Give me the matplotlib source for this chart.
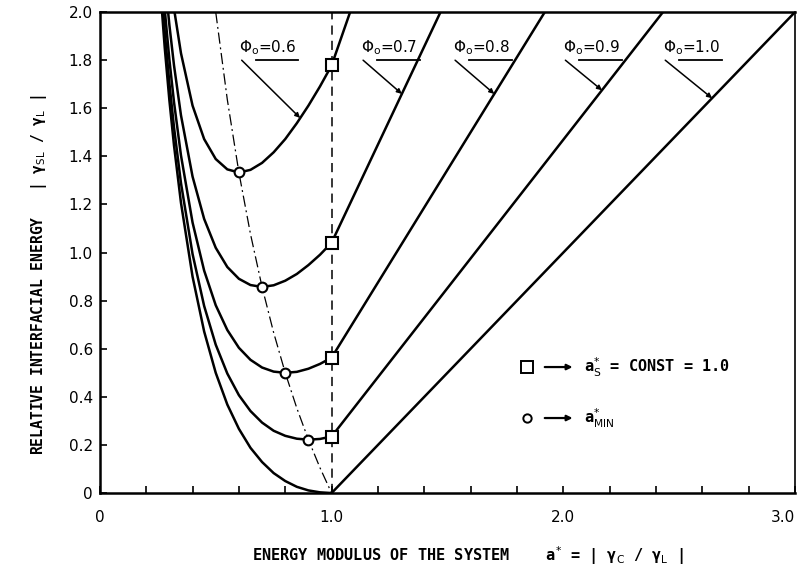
import matplotlib
matplotlib.use("Agg")
import matplotlib.pyplot as plt
from matplotlib.ticker import FuncFormatter

plt.rcParams["font.family"] = ["DejaVu Sans"]
plt.rcParams["mathtext.fontset"] = "dejavusans"

# energy modulus a* below 1.0 (curved branch)
a_left = [0.26, 0.28, 0.30, 0.32, 0.35, 0.40, 0.45, 0.50, 0.55, 0.60,
          0.65, 0.70, 0.75, 0.80, 0.85, 0.90, 0.95, 1.00]

# relative interfacial energy |gamma_SL/gamma_L| on the curved branch
y_phi_06 = [2.568, 2.349, 2.167, 2.014, 1.829, 1.611, 1.472, 1.389, 1.346, 1.333,
            1.344, 1.373, 1.417, 1.472, 1.538, 1.611, 1.691, 1.778]
y_phi_07 = [2.377, 2.143, 1.946, 1.778, 1.571, 1.316, 1.140, 1.020, 0.940, 0.891,
            0.865, 0.857, 0.864, 0.883, 0.911, 0.948, 0.991, 1.041]
y_phi_08 = [2.252, 2.009, 1.802, 1.625, 1.404, 1.125, 0.925, 0.781, 0.678, 0.604,
            0.554, 0.522, 0.505, 0.500, 0.504, 0.517, 0.537, 0.563]
y_phi_09 = [2.167, 1.917, 1.704, 1.520, 1.289, 0.994, 0.778, 0.617, 0.497, 0.407,
            0.341, 0.293, 0.259, 0.238, 0.226, 0.222, 0.225, 0.235]
y_phi_10 = [2.106, 1.851, 1.633, 1.445, 1.207, 0.900, 0.672, 0.500, 0.368, 0.267,
            0.188, 0.129, 0.083, 0.050, 0.026, 0.011, 0.003, 0.000]

phi_values = [0.6, 0.7, 0.8, 0.9, 1.0]
curves = [y_phi_06, y_phi_07, y_phi_08, y_phi_09, y_phi_10]

# straight branch above a* = 1.0 ends where it leaves the frame (y = 2.0)
a_line_end = [1.08, 1.47, 1.92, 2.43, 3.00]
y_line_end = [2.0, 2.0, 2.0, 2.0, 2.0]

# a*_s = 1.0 points (squares) and minima (circles)
a_square = [1.0, 1.0, 1.0, 1.0]
y_square = [1.778, 1.041, 0.563, 0.235]
a_min = [0.6, 0.7, 0.8, 0.9]
y_min = [1.333, 0.857, 0.500, 0.222]

# locus of the minima (dash-dot)
a_locus = [0.50, 0.55, 0.60, 0.65, 0.70, 0.75, 0.80, 0.85, 0.90, 0.95, 1.00]
y_locus = [2.000, 1.636, 1.333, 1.077, 0.857, 0.667, 0.500, 0.353, 0.222, 0.105, 0.0]

# label anchors (arrow tail) and arrow heads on each curve
label_xy = [(0.612, 1.80), (1.136, 1.80), (1.533, 1.80), (2.009, 1.80), (2.440, 1.80)]
arrow_head = [(0.864, 1.56), (1.303, 1.66), (1.702, 1.66), (2.167, 1.675), (2.642, 1.642)]

LETTERING = ["DejaVu Sans Mono"]

fig = plt.figure(figsize=(7.99, 5.76), dpi=100)
ax = fig.add_axes([0.125, 0.144, 0.870, 0.835])

ax.plot([1.0, 1.0], [0.0, 2.0], color="black", lw=1.1, ls=(0, (6, 4)))
ax.plot(a_locus, y_locus, color="black", lw=0.9, ls=(0, (9, 3, 1.5, 3)))

for y_curve, a_end, y_end in zip(curves, a_line_end, y_line_end):
    ax.plot(a_left + [a_end], y_curve + [y_end], color="black", lw=1.8,
            solid_joinstyle="miter")

ax.plot(a_square, y_square, ls="none", marker="s", ms=9, mfc="white",
        mec="black", mew=1.5, zorder=5)
ax.plot(a_min, y_min, ls="none", marker="o", ms=7, mfc="white",
        mec="black", mew=1.5, zorder=5)

for phi, (tx, ty), (hx, hy) in zip(phi_values, label_xy, arrow_head):
    ax.text(tx - 0.01, ty + 0.015, "Φ$_{\\rm o}$=%.1f" % phi, fontsize=11,
            ha="left", va="bottom")
    ax.plot([tx + 0.06, tx + 0.245], [ty, ty], color="black", lw=1.3)
    ax.annotate("", xy=(hx, hy), xytext=(tx, ty),
                arrowprops=dict(arrowstyle="-|>", color="black", lw=1.1,
                                mutation_scale=7, shrinkA=0, shrinkB=0))

# key for the two marker types
ax.plot([1.845], [0.524], marker="s", ms=8, mfc="white", mec="black", mew=1.4)
ax.plot([1.845], [0.312], marker="o", ms=6, mfc="white", mec="black", mew=1.4)
for ky in (0.524, 0.312):
    ax.annotate("", xy=(2.04, ky), xytext=(1.92, ky),
                arrowprops=dict(arrowstyle="-|>", color="black", lw=1.6,
                                mutation_scale=8, shrinkA=0, shrinkB=0))
ax.text(2.09, 0.524, "a$^{*}_{\\mathrm{S}}$ = CONST = 1.0", fontsize=11,
        va="center", family=LETTERING, fontweight="bold")
ax.text(2.09, 0.312, "a$^{*}_{\\mathrm{MIN}}$", fontsize=11, va="center",
        family=LETTERING, fontweight="bold")

ax.set_xlim(0, 3.0)
ax.set_ylim(0, 2.0)
ax.set_xticks([i * 0.2 for i in range(16)])
ax.set_yticks([i * 0.2 for i in range(11)])
ax.xaxis.set_major_formatter(FuncFormatter(
    lambda v, p: ("0" if abs(v) < 1e-9 else "%.1f" % v) if abs(v - round(v)) < 1e-6 else ""))
ax.yaxis.set_major_formatter(FuncFormatter(
    lambda v, p: "0" if abs(v) < 1e-9 else "%.1f" % v))
ax.tick_params(direction="in", length=5, width=1.2, labelsize=11)
ax.tick_params(axis="y", pad=5)
ax.tick_params(axis="x", pad=12)
for side in ("left", "bottom", "top"):
    ax.spines[side].set_linewidth(1.8)
ax.spines["right"].set_linewidth(1.2)

# keep the last x label inside the figure
fig.canvas.draw()
ax.get_xticklabels()[-1].set_horizontalalignment("right")
ax.get_xticklabels()[-1].set_x(3.0)

ax.set_xlabel("ENERGY MODULUS OF THE SYSTEM    a$^{*}$ = | γ$_\\mathrm{C}$ / γ$_\\mathrm{L}$ |",
              fontsize=11, labelpad=14, x=0.53, family=LETTERING, fontweight="bold")
ax.set_ylabel("RELATIVE INTERFACIAL ENERGY   | γ$_\\mathrm{SL}$ / γ$_\\mathrm{L}$ |",
              fontsize=10.5, labelpad=14, y=0.455, family=LETTERING, fontweight="bold")

fig.savefig("out.png", dpi=100, facecolor="white")
